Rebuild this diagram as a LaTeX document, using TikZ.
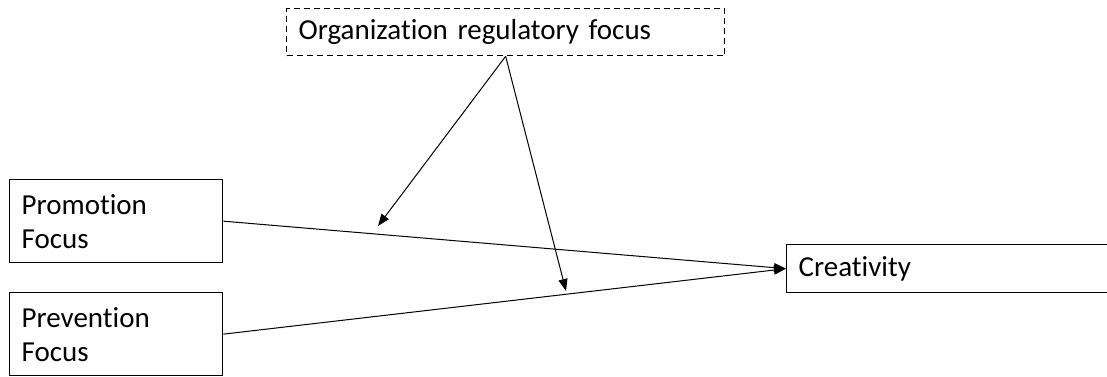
\documentclass[tikz,border=0pt]{standalone}
\usepackage{fontspec}
\setmainfont{Carlito}[Ligatures={NoCommon}]
\usetikzlibrary{arrows.meta}
\begin{document}
\begin{tikzpicture}[x=1pt,y=-1pt,
  box/.style={draw=black, line width=1.3pt, anchor=north west, inner xsep=12pt, inner ysep=0pt,
    align=left, font=\fontsize{29}{34}\selectfont},
  dbox/.style={box, dashed, dash pattern=on 6pt off 4pt},
  conn/.style={line width=1pt},
  arr/.style={conn, -{Triangle[length=12pt,width=9pt]}}]
\clip (0,0) rectangle (1107,376);
\node[dbox, minimum width=438pt, minimum height=47pt, text width=414pt] (org) at (286,8) {Organization regulatory focus};
\node[box, minimum width=213pt, minimum height=83pt, text width=189pt] (promo) at (9,179) {Promotion\\Focus};
\node[box, minimum width=213pt, minimum height=83pt, text width=189pt] (prev) at (9,292) {Prevention\\Focus};
\node[box, minimum width=330pt, minimum height=48pt, text width=306pt] (crea) at (786,244) {Creativity};
\coordinate (m1) at (378,226);
\coordinate (m2) at (566,291);
\draw[arr] (promo.east) -- (crea.west);
\draw[arr] (prev.east) -- (crea.west);
\draw[arr] (org.south) -- (m1);
\draw[arr] (org.south) -- (m2);
\end{tikzpicture}
\end{document}
